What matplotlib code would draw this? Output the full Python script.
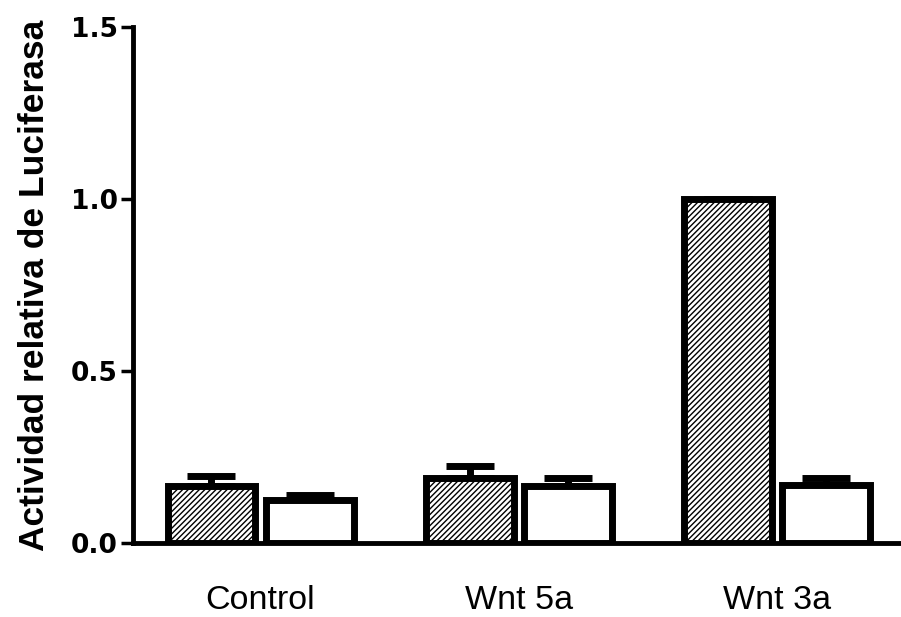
import numpy as np
import matplotlib
matplotlib.use('Agg')
import matplotlib.pyplot as plt

plt.rcParams['font.family'] = ['Liberation Sans', 'DejaVu Sans']
plt.rcParams['hatch.linewidth'] = 1.0

groups = ['Control', 'Wnt 5a', 'Wnt 3a']
hatched_vals = [0.165, 0.19, 1.0]
hatched_err = [0.03, 0.035, 0.0]
open_vals = [0.125, 0.165, 0.17]
open_err = [0.015, 0.025, 0.02]

x = np.arange(len(groups))
w = 0.34
off = 0.19

fig = plt.figure(figsize=(9.01, 6.17), dpi=100)
ax = fig.add_axes([0.1476, 0.12, 0.8524, 0.836])

lw = 5
ax.bar(x - off, hatched_vals, w, color='white', edgecolor='black',
       linewidth=lw, hatch='//////', zorder=3)
ax.bar(x + off, open_vals, w, color='white', edgecolor='black',
       linewidth=lw, zorder=3)

# upper error bars only
ax.errorbar(x - off, hatched_vals, yerr=[np.zeros(3), hatched_err], fmt='none',
            ecolor='black', elinewidth=lw, capsize=17, capthick=lw, zorder=2)
ax.errorbar(x + off, open_vals, yerr=[np.zeros(3), open_err], fmt='none',
            ecolor='black', elinewidth=lw, capsize=17, capthick=lw, zorder=2)

ax.set_xlim(-0.494, 2.48)
ax.set_ylim(0, 1.5)
ax.set_yticks([0.0, 0.5, 1.0, 1.5])
ax.set_yticklabels(['0.0', '0.5', '1.0', '1.5'], fontsize=19, fontweight='bold',
                   family='DejaVu Sans')
ax.set_xticks(x)
ax.set_xticklabels(groups, fontsize=24.5)

ax.spines['top'].set_visible(False)
ax.spines['right'].set_visible(False)
ax.spines['left'].set_linewidth(3.5)
ax.spines['bottom'].set_linewidth(3.5)
ax.tick_params(axis='y', length=9, width=2.5, pad=2)
ax.tick_params(axis='x', length=0, pad=30)

ax.set_ylabel('Actividad relativa de Luciferasa', fontsize=25.5, fontweight='bold',
              labelpad=14)

fig.savefig('out.png', dpi=100)
